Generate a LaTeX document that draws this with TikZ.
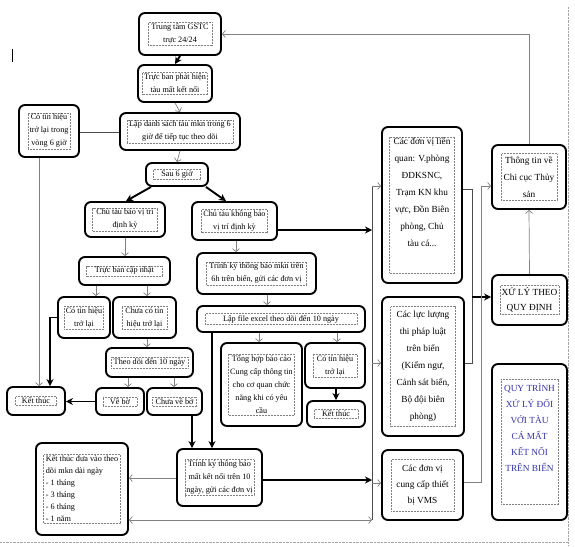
\documentclass[tikz,border=0pt]{standalone}
\usepackage{fontspec}
\setmainfont{Liberation Serif}
\usetikzlibrary{arrows.meta,fit,calc}
\definecolor{quyblue}{RGB}{50,50,170}
\tikzset{
 obox/.style={draw, rounded corners=6pt, line width=1.9pt, inner sep=0pt},
 ibox/.style={draw=black!50, densely dotted, line width=0.5pt, inner sep=1.5pt, align=center, font=\fontsize{8.2}{13}\selectfont},
 big/.style={font=\fontsize{9.3}{17}\selectfont},
 garrow/.style={draw=black!50, line width=0.7pt, -{Straight Barb[length=3pt,width=7pt]}},
 gboth/.style={draw=black!50, line width=0.7pt, {Straight Barb[length=3pt,width=7pt]}-{Straight Barb[length=3pt,width=7pt]}},
 gline/.style={draw=black!70, line width=0.7pt},
 tarrow/.style={draw=black, line width=1.9pt, -{Stealth[length=7pt,width=7pt]}},
}
\newcommand\bx[6][]{%
 \node[obox, fit={#3 #4}] (#2) {};
 \node[ibox, minimum width=#5, #1] (#2t) at (#2.center) {#6};}
\begin{document}
\begin{tikzpicture}[x=1pt,y=-1pt]
\useasboundingbox (0,0) rectangle (575,546);
\draw[black!35, densely dotted] (568,7) -- (568,546);
\draw[black!35, densely dotted] (0,542) -- (568,542);
\draw[line width=0.8pt] (12,49) -- (12,62);

\bx{gstc}{(139,13)}{(221,55)}{64pt}{Trung tâm GSTC\\trực 24/24}
\bx{tbphat}{(138,65)}{(212,102)}{64pt}{Trực ban phát hiện\\tàu mất kết nối}
\bx{lapds}{(120,113)}{(240,150)}{106pt}{Lập danh sách tàu mkn trong 6\\giờ để tiếp tục theo dõi}
\bx{cotin6}{(19,105)}{(79,157)}{41pt}{Có tín hiệu\\trở lại trong\\vòng 6 giờ}
\bx{sau6}{(146,163)}{(208,186)}{47pt}{Sau 6 giờ}
\bx{chubao}{(85,202)}{(165,237)}{65pt}{Chủ tàu báo vị trí\\định kỳ}
\bx{chukhong}{(192,202)}{(277,240)}{66pt}{Chủ tàu không báo\\vị trí định kỳ}
\bx{tbc}{(79,257)}{(170,285)}{76pt}{Trực ban cập nhật}
\bx{cotin1}{(58,297)}{(110,338)}{38pt}{Có tín hiệu\\trở lại}
\bx{chuaco}{(113,297)}{(176,338)}{45pt}{Chưa có tín\\hiệu trở lại}
\bx{theodoi}{(106,348)}{(193,377)}{77pt}{Theo dõi đến 10 ngày}
\bx{vebo}{(96,388)}{(144,415)}{34pt}{Về bờ}
\bx{chuavebo}{(147,388)}{(202,415)}{44pt}{Chưa về bờ}
\bx{ket1}{(7,387)}{(65,415)}{41pt}{Kết thúc}
\bx{tb6}{(197,253)}{(316,294)}{100pt}{Trình ký thông báo mkn trên\\6h trên biển, gửi các đơn vị}
\bx{lapfile}{(197,306)}{(365,332)}{152pt}{Lập file excel theo dõi đến 10 ngày}
\bx{tonghop}{(221,343)}{(302,426)}{62pt}{Tổng hợp báo cáo\\Cung cấp thông tin\\cho cơ quan chức\\năng khi có yêu\\cầu}
\bx{cotin2}{(305,343)}{(365,388)}{44pt}{Có tín hiệu\\trở lại}
\bx{ket2}{(307,401)}{(365,427)}{44pt}{Kết thúc}
\bx{tb10}{(177,449)}{(262,506)}{68pt}{Trình ký thông báo\\mất kết nối trên 10\\ngày, gửi các đơn vị}
\bx[align=left, font=\fontsize{8.2}{12}\selectfont]{ketdv}{(36,443)}{(128,535)}{77pt}{Kết thúc đưa vào theo\\dõi mkn dài ngày\\- 1 tháng\\- 3 tháng\\- 6 tháng\\- 1 năm}

\bx[big]{donvi}{(382,127)}{(462,283)}{60pt}{\parbox[t][133pt][t]{62pt}{\centering Các đơn vị liên\\quan: V.phòng\\ĐDKSNC,\\Trạm KN khu\\vực,  Đồn Biên\\phòng, Chủ\\tàu cá...}}
\bx[big, minimum height=120pt]{lucluong}{(382,297)}{(464,436)}{65pt}{Các lực lượng\\thi pháp luật\\trên biển\\(Kiểm ngư,\\Cảnh sát biển,\\Bộ đội biên\\phòng)}
\bx[font=\fontsize{9.3}{16}\selectfont, minimum height=52pt]{vms}{(382,450)}{(463,520)}{63pt}{Các đơn vị\\cung cấp thiết\\bị VMS}
\bx[big, minimum height=47pt]{thongtin}{(492,145)}{(566,209)}{56pt}{Thông tin về\\Chi cục Thủy\\sản}
\bx[font=\fontsize{9.3}{15}\selectfont, minimum height=29pt]{xuly}{(492,275)}{(567,325)}{58pt}{XỬ LÝ THEO\\QUY ĐỊNH}
\bx[font=\fontsize{9.3}{16}\selectfont, text=quyblue]{quytrinh}{(492,364)}{(567,520)}{56pt}{\parbox[t][122pt][t]{54pt}{\centering\vspace*{3pt}QUY TRÌNH\\XỬ LÝ ĐỐI\\VỚI TÀU\\CÁ MẤT\\KẾT NỐI\\TRÊN BIỂN}}

% connectors
\draw[tarrow] (gstc.south) -- (tbphat.north);
\draw[garrow] (tbphat.south) -- (lapds.north);
\draw[gline] (cotin6.east |- 0,132) -- (lapds.west |- 0,132);
\draw[garrow] (lapds.south) -- (sau6.north);
\draw[tarrow] (sau6.south -| 151,0) -- (chubao.north -| 126,0);
\draw[tarrow] (sau6.south -| 206,0) -- (chukhong.north -| 226,0);
\draw[garrow] (chubao.south) -- (tbc.north -| chubao.south);
\draw[garrow] (tbc.south -| 96,0) -- (cotin1.north -| 96,0);
\draw[garrow] (tbc.south -| 147,0) -- (chuaco.north -| 147,0);
\draw[garrow] (chuaco.south -| 147,0) -- (theodoi.north -| 147,0);
\draw[garrow] (theodoi.south -| 128,0) -- (vebo.north -| 128,0);
\draw[garrow] (theodoi.south -| 174,0) -- (chuavebo.north -| 174,0);
\draw[tarrow] (vebo.west) -- (ket1.east |- vebo.west);
\draw[tarrow] (cotin1.west) -| (ket1.north -| 50,0);
\draw[garrow] (cotin6.south -| 39,0) -- (ket1.north -| 39,0);
\draw[tarrow] (chuavebo.south -| 192,0) -- (tb10.north -| 192,0);
\draw[tarrow] (lapfile.south -| 212,0) -- (tb10.north -| 212,0);
\draw[garrow] (chukhong.south -| 236,0) -- (tb6.north -| 236,0);
\draw[garrow] (tb6.south -| 267,0) -- (lapfile.north -| 267,0);
\draw[garrow] (lapfile.south -| 259,0) -- (tonghop.north -| 259,0);
\draw[garrow] (lapfile.south -| 337,0) -- (cotin2.north -| 337,0);
\draw[tarrow] (cotin2.south -| 336,0) -- (ket2.north -| 336,0);

\coordinate (bt) at (372,186);
\coordinate (bb) at (372,520);
\draw[gline] (bt) -- (bb);
\draw[garrow] (bt) -- (donvi.west |- bt);
\draw[garrow] (bt |- 0,363) -- (lucluong.west |- 0,363);
\draw[garrow] (bt |- 0,483) -- (vms.west |- 0,483);
\draw[tarrow] (chukhong.east |- 0,230) -- (bt |- 0,230);
\draw[tarrow] (tb10.east |- 0,480) -- (bb |- 0,480);
\draw[garrow] (tb10.west |- 0,478) -- (ketdv.east |- 0,478);
\draw[gboth] (ketdv.east |- bb) -- (bb);

\coordinate (rt) at (472,189);
\coordinate (rb) at (472,363);
\draw[gline] (donvi.east |- rt) -- (rt) -- (rb) -- (lucluong.east |- rb);
\draw[tarrow] (rt |- 0,297) -- (xuly.west |- 0,297);
\draw[garrow] (vms.east |- 0,482) -| (481,186) -- (thongtin.west |- 0,186);
\draw[garrow] (xuly.north) -- (thongtin.south);
\draw[garrow] (thongtin.north -| 529,0) |- (gstc.east);
\end{tikzpicture}
\end{document}
